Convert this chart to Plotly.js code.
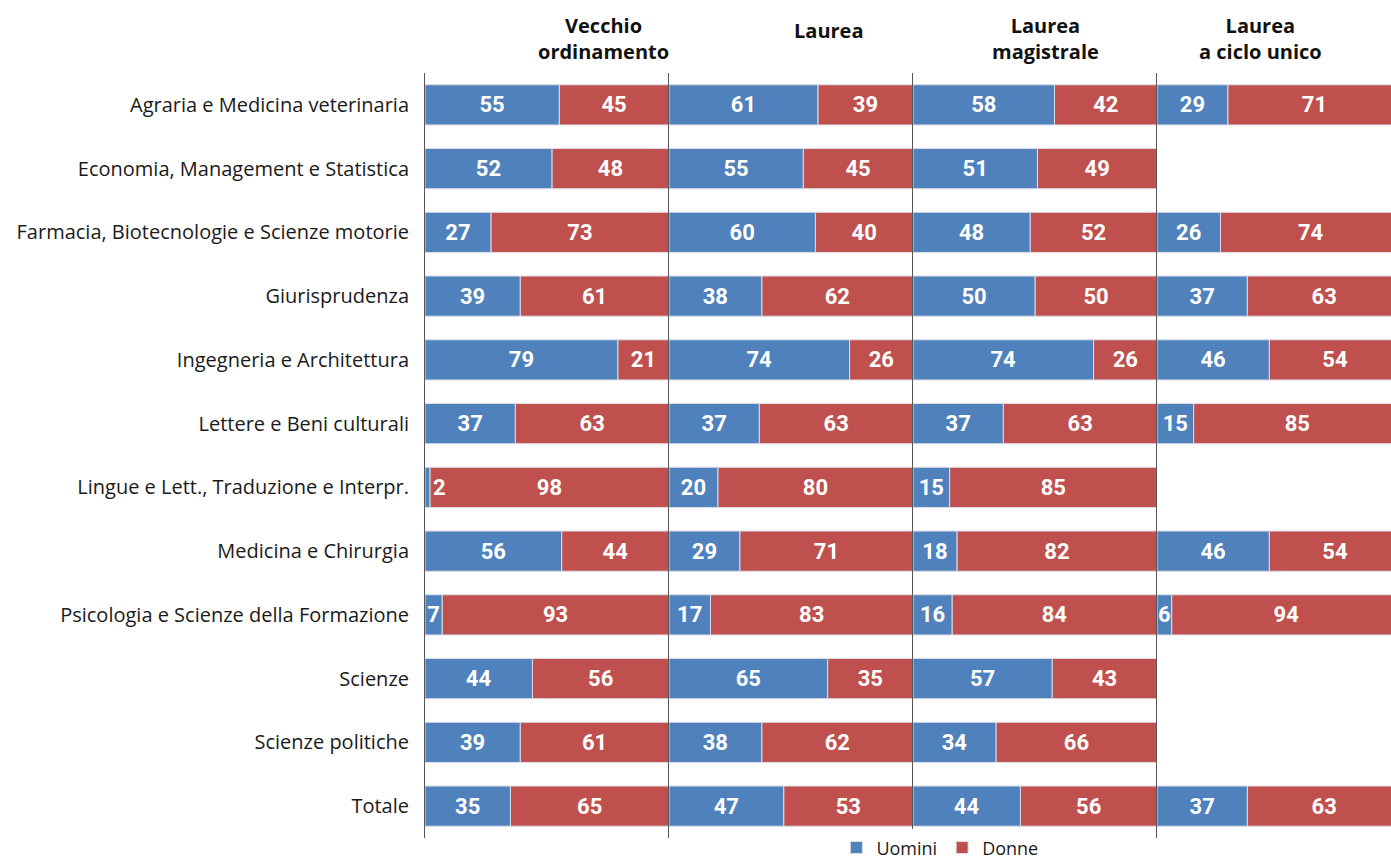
<!DOCTYPE html>
<html>
<head>
<meta charset="utf-8">
<script src="https://cdn.plot.ly/plotly-3.0.1.min.js"></script>
<style>html,body{margin:0;padding:0;background:#fff;}#chart{width:1391px;height:859px;}</style>
</head>
<body>
<div id="chart"></div>
<script>
const categories = ["Agraria e Medicina veterinaria","Economia, Management e Statistica","Farmacia, Biotecnologie e Scienze motorie","Giurisprudenza","Ingegneria e Architettura","Lettere e Beni culturali","Lingue e Lett., Traduzione e Interpr.","Medicina e Chirurgia","Psicologia e Scienze della Formazione","Scienze","Scienze politiche","Totale"];
const panelTitles = ["Vecchio<br>ordinamento","Laurea","Laurea<br>magistrale","Laurea<br>a ciclo unico"];
const seriesNames = ["Uomini","Donne"];

const vecchioUomini = [55,52,27,39,79,37,2,56,7,44,39,35];
const vecchioDonne  = [45,48,73,61,21,63,98,44,93,56,61,65];
const laureaUomini  = [61,55,60,38,74,37,20,29,17,65,38,47];
const laureaDonne   = [39,45,40,62,26,63,80,71,83,35,62,53];
const magistraleUomini = [58,51,48,50,74,37,15,18,16,57,34,44];
const magistraleDonne  = [42,49,52,50,26,63,85,82,84,43,66,56];
const cicloUnicoUomini = [29,null,26,37,46,15,null,46,6,null,null,37];
const cicloUnicoDonne  = [71,null,74,63,54,85,null,54,94,null,null,63];

const panels = [
  [vecchioUomini, vecchioDonne],
  [laureaUomini, laureaDonne],
  [magistraleUomini, magistraleDonne],
  [cicloUnicoUomini, cicloUnicoDonne]
];
const colors = ["#4f81bd","#c0504d"];
const numFont = {family: "Roboto, Open Sans, sans-serif", size: 22, color: "#ffffff", weight: "bold"};
const labelFont = {family: "Open Sans, Roboto, sans-serif", size: 20, color: "#1a1a1a"};

const traces = [];
panels.forEach((p, i) => {
  const xa = i === 0 ? "x" : "x" + (i + 1);
  const ya = i === 0 ? "y" : "y" + (i + 1);
  const uomini = p[0], donne = p[1];
  // Donne first (placed after Uomini through base) so Uomini labels stay visible on top
  traces.push({
    type: "bar", orientation: "h", y: categories, x: donne, base: uomini,
    name: seriesNames[1], legendgroup: seriesNames[1], showlegend: i === 0,
    xaxis: xa, yaxis: ya,
    marker: {color: colors[1], line: {color: "#dcdce6", width: 1}},
    text: donne.map(v => v === null ? "" : String(v)),
    textposition: "inside", insidetextanchor: "middle", textfont: numFont,
    hoverinfo: "x+y+name"
  });
  traces.push({
    type: "bar", orientation: "h", y: categories, x: uomini,
    name: seriesNames[0], legendgroup: seriesNames[0], showlegend: i === 0,
    xaxis: xa, yaxis: ya,
    marker: {color: colors[0], line: {color: "#dcdce6", width: 1}},
    text: uomini.map(v => v === null ? "" : String(v)),
    textposition: uomini.map(v => (v !== null && v < 4) ? "outside" : "inside"),
    insidetextanchor: "middle", textfont: numFont, outsidetextfont: numFont,
    hoverinfo: "x+y+name"
  });
});

const W = 966;
const bounds = [0, 244, 488, 732, 966];
const ranges = [[0,100],[0,100],[0,100],[0,95.9]];
const layout = {
  width: 1391, height: 859,
  margin: {l: 425, r: 0, t: 73, b: 21, autoexpand: false},
  barmode: "overlay",
  bargap: 0.37,
  showlegend: true,
  legend: {orientation: "h", x: 0.533, xanchor: "center", yref: "container", y: 0.013, yanchor: "middle",
           font: {family: "Open Sans, Roboto, sans-serif", size: 18, color: "#1a1a1a"}, traceorder: "reversed"},
  uniformtext: {mode: "show", minsize: 22},
  paper_bgcolor: "#ffffff", plot_bgcolor: "#ffffff",
  annotations: []
};
const titleX = [73, 65.6, 54.5, 42.6];
const titleY = [1.045, 1.056, 1.045, 1.045];
for (let i = 0; i < 4; i++) {
  const xk = i === 0 ? "xaxis" : "xaxis" + (i + 1);
  const yk = i === 0 ? "yaxis" : "yaxis" + (i + 1);
  const xa = i === 0 ? "x" : "x" + (i + 1);
  layout[xk] = {domain: [bounds[i]/W, bounds[i+1]/W], range: ranges[i], showgrid: false, zeroline: false,
                showticklabels: false, showline: false, ticks: "", fixedrange: true};
  layout[yk] = {anchor: xa, autorange: "reversed", showgrid: false, zeroline: false,
                showline: true, linecolor: "#555555", linewidth: 1, ticks: "",
                showticklabels: i === 0, tickfont: labelFont, ticklabelstandoff: 11};
  if (i > 0) layout[yk].matches = "y";
  layout.annotations.push({
    text: panelTitles[i], xref: xa, yref: "paper", x: titleX[i], y: titleY[i],
    xanchor: "center", yanchor: "middle", showarrow: false, align: "center",
    font: {family: "Open Sans, Roboto, sans-serif", size: 20, color: "#111", weight: "bold"}
  });
}
Plotly.newPlot("chart", traces, layout, {displayModeBar: false, staticPlot: true});
</script>
</body>
</html>
